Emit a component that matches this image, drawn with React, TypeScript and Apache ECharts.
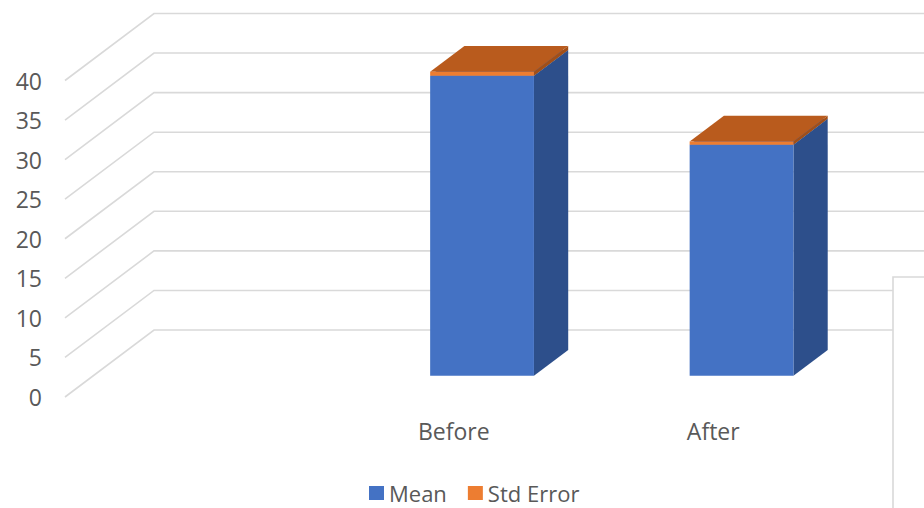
import React, { useEffect, useRef } from "react";
import * as echarts from "echarts";

// Chart data
const categories = ["Before", "After"];
const meanValues = [37.9, 29.2];
const stdErrorValues = [0.5, 0.4];
const yTicks = [0, 5, 10, 15, 20, 25, 30, 35, 40];

// 3D look: oblique depth vector of the walls, and where the bars sit inside that depth
const DEPTH: [number, number] = [89, -67];
const BAR_FRONT = 0.318; // fraction of the depth in front of the bars
const BAR_DEPTH = 0.385; // fraction of the depth the bars occupy
const WALL_X = 65; // left end of the floor/grid lines on the front plane
const BAR_RATIO = 0.4; // bar width relative to category band

const TEXT = "#595959";
const GRIDLINE = "#D9D9D9";
const FONT = "'Open Sans', 'Noto Sans', sans-serif";

const BLUE = { front: "#4472C4", side: "#2D4F8B", top: "#3B64AD" };
const ORANGE = { front: "#ED7D31", side: "#A24F17", top: "#B95B1D" };

function box(
  api: any,
  idx: number,
  from: number,
  to: number,
  colors: { front: string; side: string; top: string }
) {
  const base = api.coord([idx, from]);
  const topP = api.coord([idx, to]);
  const band = api.size([1, 0])[0];
  const half = (band * BAR_RATIO) / 2;
  const ox = DEPTH[0] * BAR_FRONT;
  const oy = DEPTH[1] * BAR_FRONT;
  const dx = DEPTH[0] * BAR_DEPTH;
  const dy = DEPTH[1] * BAR_DEPTH;
  const cx = base[0] + ox;
  const yb = base[1] + oy;
  const yt = topP[1] + oy;
  const l = cx - half;
  const r = cx + half;
  return {
    type: "group",
    children: [
      {
        type: "polygon",
        shape: { points: [[r, yt], [r + dx, yt + dy], [r + dx, yb + dy], [r, yb]] },
        style: { fill: colors.side },
      },
      {
        type: "polygon",
        shape: { points: [[l, yt], [l + dx, yt + dy], [r + dx, yt + dy], [r, yt]] },
        style: { fill: colors.top },
      },
      {
        type: "rect",
        shape: { x: l, y: yt, width: r - l, height: yb - yt },
        style: { fill: colors.front },
      },
    ],
  };
}

export default function App() {
  const ref = useRef<HTMLDivElement>(null);

  useEffect(() => {
    if (!ref.current) return;
    const chart = echarts.init(ref.current, undefined, { renderer: "svg" });

    const option: any = {
      animation: false,
      backgroundColor: "#ffffff",
      textStyle: { fontFamily: FONT },
      grid: {
        left: 324,
        width: 519,
        top: 80.5,
        height: 316.5,
        outerBoundsMode: "none",
      },
      legend: {
        data: [
          { name: "Mean", icon: "rect" },
          { name: "Std Error", icon: "rect" },
        ],
        left: 369,
        top: 481,
        padding: 0,
        itemWidth: 15,
        itemHeight: 14,
        itemGap: 21,
        textStyle: {
          color: TEXT,
          fontSize: 22,
          lineHeight: 24,
          fontFamily: FONT,
        },
      },
      xAxis: {
        type: "category",
        data: categories,
        axisLine: { show: false },
        axisTick: { show: false },
        axisLabel: { color: TEXT, fontSize: 23, fontFamily: FONT, margin: 22 },
        splitLine: { show: false },
      },
      yAxis: {
        type: "value",
        min: 0,
        max: 40,
        interval: 5,
        axisLine: { show: false },
        axisTick: { show: false },
        splitLine: { show: false },
        axisLabel: { color: TEXT, fontSize: 23, fontFamily: FONT, margin: 282 },
      },
      series: [
        {
          type: "custom",
          name: "grid",
          silent: true,
          z: 1,
          data: yTicks.map((v) => [0, v]),
          encode: { x: 0, y: 1 },
          renderItem: (_p: any, api: any) => {
            const y = api.coord([0, api.value(1)])[1];
            return {
              type: "polyline",
              shape: {
                points: [
                  [WALL_X, y],
                  [WALL_X + DEPTH[0], y + DEPTH[1]],
                  [api.getWidth(), y + DEPTH[1]],
                ],
              },
              style: { stroke: GRIDLINE, lineWidth: 1.6, fill: "none" },
            };
          },
        },
        {
          type: "custom",
          name: "Mean",
          z: 2,
          itemStyle: { color: BLUE.front },
          data: meanValues.map((v, i) => [i, v]),
          encode: { x: 0, y: 1 },
          renderItem: (_p: any, api: any) =>
            box(api, api.value(0), 0, api.value(1), BLUE),
        },
        {
          type: "custom",
          name: "Std Error",
          z: 3,
          itemStyle: { color: ORANGE.front },
          data: stdErrorValues.map((v, i) => [i, meanValues[i] + v, meanValues[i]]),
          encode: { x: 0, y: 1 },
          renderItem: (_p: any, api: any) =>
            box(api, api.value(0), api.value(2), api.value(1), ORANGE),
        },
      ],
      graphic: [
        {
          type: "rect",
          z: 100,
          shape: { x: 893, y: 277, width: 80, height: 280 },
          style: { fill: "#ffffff", stroke: GRIDLINE, lineWidth: 1.6 },
        },
      ],
    };

    chart.setOption(option);
    return () => chart.dispose();
  }, []);

  return (
    <div
      ref={ref}
      style={{ position: "fixed", left: 0, top: 0, width: 924, height: 508 }}
    />
  );
}
